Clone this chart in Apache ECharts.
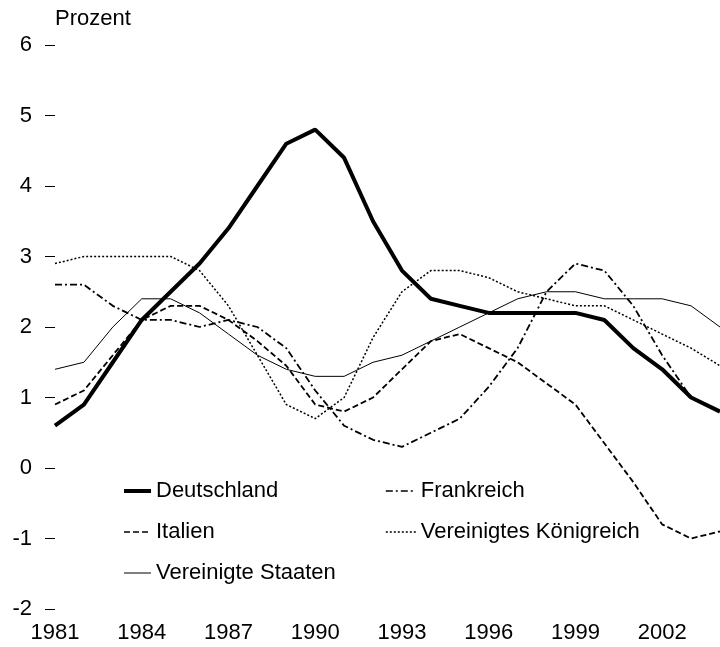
<!DOCTYPE html>
<html>
<head>
<meta charset="utf-8">
<script src="https://cdn.jsdelivr.net/npm/echarts@6/dist/echarts.min.js"></script>
<style>
html,body{margin:0;padding:0;background:#fff;}
#c{width:720px;height:647px;}
</style>
</head>
<body>
<div id="c"></div>
<script>
var years = ['1981','1982','1983','1984','1985','1986','1987','1988','1989','1990','1991','1992','1993','1994','1995','1996','1997','1998','1999','2000','2001','2002','2003','2004'];
var deutschland = [0.6,0.9,1.5,2.1,2.5,2.9,3.4,4.0,4.6,4.8,4.4,3.5,2.8,2.4,2.3,2.2,2.2,2.2,2.2,2.1,1.7,1.4,1.0,0.8];
var frankreich = [2.6,2.6,2.3,2.1,2.1,2.0,2.1,2.0,1.7,1.1,0.6,0.4,0.3,0.5,0.7,1.15,1.7,2.5,2.9,2.8,2.3,1.6,1.0,0.8];
var italien = [0.9,1.1,1.6,2.1,2.3,2.3,2.1,1.8,1.45,0.9,0.8,1.0,1.4,1.8,1.9,1.7,1.5,1.2,0.9,0.35,-0.2,-0.8,-1.0,-0.9];
var vk = [2.9,3.0,3.0,3.0,3.0,2.8,2.3,1.6,0.9,0.7,1.0,1.85,2.5,2.8,2.8,2.7,2.5,2.4,2.3,2.3,2.1,1.9,1.7,1.45];
var us = [1.4,1.5,2.0,2.4,2.4,2.2,1.9,1.6,1.4,1.3,1.3,1.5,1.6,1.8,2.0,2.2,2.4,2.5,2.5,2.4,2.4,2.4,2.3,2.0];
var yTicks = [-2,-1,0,1,2,3,4,5,6];

var FONT = "'Liberation Sans', Arial, sans-serif";
var FS = 22;
var chart = echarts.init(document.getElementById('c'), null, {renderer:'canvas'});
var legendText = {fontSize:FS, color:'#000', fontFamily:FONT};
var legendCommon = {orient:'vertical', padding:0, itemHeight:20, itemGap:19, textStyle:legendText,
  itemStyle:{opacity:0}, inactiveColor:'#000'};
chart.setOption({
  animation:false,
  backgroundColor:'#fff',
  textStyle:{fontFamily:FONT},
  title:{text:'Prozent', left:55, top:8, padding:0, textStyle:{fontSize:FS, fontWeight:'normal', color:'#000', fontFamily:FONT}},
  grid:{left:55, right:0, top:45, bottom:38, containLabel:false},
  legend:[
    Object.assign({}, legendCommon, {left:122, top:480, itemWidth:27, data:[
      {name:'Deutschland', lineStyle:{width:4}},
      {name:'Italien', lineStyle:{width:1.6}},
      {name:'Vereinigte Staaten', lineStyle:{width:1}}]}),
    Object.assign({}, legendCommon, {left:385, top:480, itemWidth:30, data:[
      {name:'Frankreich', lineStyle:{width:1.6}},
      {name:'Vereinigtes Königreich', lineStyle:{width:1.3}}]})
  ],
  xAxis:{type:'category', data:years, boundaryGap:false,
    axisLine:{show:false}, axisTick:{show:false}, splitLine:{show:false},
    axisLabel:{interval:2, fontSize:FS, color:'#000', margin:13, fontFamily:FONT}},
  yAxis:{type:'value', min:yTicks[0], max:yTicks[yTicks.length-1], interval:1,
    axisLine:{show:false}, splitLine:{show:false},
    axisTick:{show:true, length:10, lineStyle:{color:'#000', width:1}},
    axisLabel:{fontSize:FS, color:'#000', margin:23, fontFamily:FONT}},
  series:[
    {name:'Deutschland', type:'line', data:deutschland, symbol:'none', lineStyle:{color:'#000', width:4}, itemStyle:{color:'#000'}, z:5},
    {name:'Frankreich', type:'line', data:frankreich, symbol:'none', lineStyle:{color:'#000', width:1.8, type:[7,3,2,3]}, itemStyle:{color:'#000'}},
    {name:'Italien', type:'line', data:italien, symbol:'none', lineStyle:{color:'#000', width:1.8, type:[6,3]}, itemStyle:{color:'#000'}},
    {name:'Vereinigtes Königreich', type:'line', data:vk, symbol:'none', lineStyle:{color:'#000', width:1.5, type:[2,2]}, itemStyle:{color:'#000'}},
    {name:'Vereinigte Staaten', type:'line', data:us, symbol:'none', lineStyle:{color:'#000', width:1}, itemStyle:{color:'#000'}}
  ]
});
</script>
</body>
</html>
